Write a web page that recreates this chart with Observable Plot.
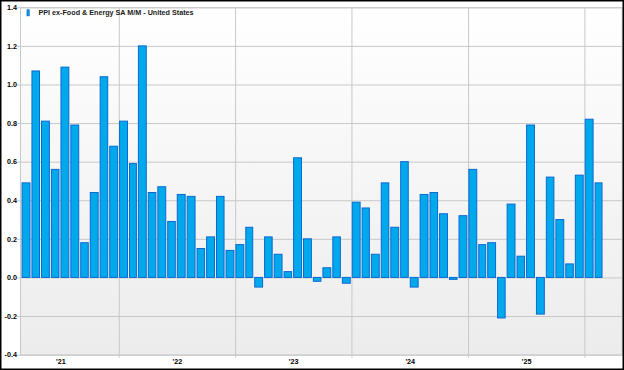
<!DOCTYPE html>
<html><head><meta charset="utf-8">
<script src="https://cdn.jsdelivr.net/npm/d3@7"></script>
<script src="https://cdn.jsdelivr.net/npm/@observablehq/plot@0.6"></script>
<style>
html,body{margin:0;padding:0;background:#fff}
#chart{width:624px;height:370px}
</style>
</head><body><div id="chart"></div>
<script>
const seriesName = "PPI ex-Food & Energy SA M/M - United States";
const firstMonth = [2021, 2];   // March 2021 (year, zero-based month)
const values = [
  0.49, 1.07, 0.81, 0.56, 1.09, 0.79, 0.18, 0.44, 1.04, 0.68,
  0.81, 0.59, 1.20, 0.44, 0.47, 0.29, 0.43, 0.42, 0.15, 0.21,
  0.42, 0.14, 0.17, 0.26, -0.05, 0.21, 0.12, 0.03, 0.62, 0.20,
  -0.02, 0.05, 0.21, -0.03, 0.39, 0.36, 0.12, 0.49, 0.26, 0.60,
  -0.05, 0.43, 0.44, 0.33, -0.01, 0.32, 0.56, 0.17, 0.18, -0.21,
  0.38, 0.11, 0.79, -0.19, 0.52, 0.30, 0.07, 0.53, 0.82, 0.49
];
const yTicks = [-0.4, -0.2, 0, 0.2, 0.4, 0.6, 0.8, 1.0, 1.2, 1.4];
const labelYears = [2021, 2022, 2023, 2024, 2025];
const yearLabels = ["'21", "'22", "'23", "'24", "'25"];
const gridYears = [2022, 2023, 2024, 2025, 2026];

const data = values.map((v, i) => {
  const d = new Date(Date.UTC(firstMonth[0], firstMonth[1] + i, 1));
  const e = new Date(Date.UTC(firstMonth[0], firstMonth[1] + i + 1, 1));
  return {d, e, v};
});
const labelDates = labelYears.map(y => new Date(Date.UTC(y, 6, 2)));
const labelMap = new Map(labelDates.map((d, i) => [+d, yearLabels[i]]));
const gridDates = gridYears.map(y => new Date(Date.UTC(y, 0, 1)));

const fill = "#00a9ec", stroke = "#0b68d2", grid = "#c8c8c8";
const font = "'Liberation Sans', Arial, sans-serif";

const defs = () => {
  const g = document.createElementNS("http://www.w3.org/2000/svg", "defs");
  g.innerHTML = `<linearGradient id="bgGrad" x1="0" y1="0" x2="0" y2="1">
    <stop offset="0" stop-color="#ffffff"/><stop offset="1" stop-color="#ececec"/></linearGradient>`;
  return g;
};
const decor = (index, scales, values, dims) => {
  const g = document.createElementNS("http://www.w3.org/2000/svg", "g");
  g.innerHTML = `<rect x="0.75" y="0.75" width="${dims.width - 1.5}" height="${dims.height - 1.5}" fill="none" stroke="#000" stroke-width="1.5"/>
    <rect x="${dims.marginLeft + 7}" y="${dims.marginTop + 2.5}" width="2.2" height="6" fill="${fill}" stroke="${stroke}" stroke-width="0.8"/>`;
  return g;
};

const chart = Plot.plot({
  width: 624,
  height: 370,
  marginLeft: 20,
  marginRight: 2.3,
  marginTop: 7.3,
  marginBottom: 15.4,
  style: {fontFamily: font, background: "transparent"},
  x: {type: "utc", label: null, domain: [new Date(Date.UTC(2021, 1, 25)), new Date(Date.UTC(2026, 3, 28))]},
  y: {label: null, domain: [-0.4, 1.4]},
  marks: [
    defs,
    Plot.frame({fill: "url(#bgGrad)", stroke: grid}),
    Plot.ruleY(yTicks, {stroke: grid, strokeOpacity: 1}),
    Plot.ruleX(gridDates, {stroke: grid, strokeOpacity: 1}),
    Plot.axisX(gridDates, {label: null, tickSize: 3, stroke: grid, strokeOpacity: 1, tickFormat: () => ""}),
    Plot.axisY({label: null, ticks: yTicks, tickSize: 3, stroke: grid, strokeOpacity: 1, tickPadding: 0.5,
      tickFormat: d => d.toFixed(1), fontSize: 7.2, fontWeight: "bold", fill: "#000"}),
    Plot.axisX({label: null, ticks: labelDates, tickSize: 0, tickPadding: 4.2, tickFormat: d => labelMap.get(+d),
      fontSize: 7.2, fontWeight: "bold", fill: "#000"}),
    Plot.rectY(data, {x1: "d", x2: "e", y1: 0, y2: "v", fill, stroke, strokeWidth: 1,
      insetLeft: 0.8, insetRight: 1.2}),
    Plot.text([seriesName], {frameAnchor: "top-left", dx: 18, dy: 5, textAnchor: "start",
      lineAnchor: "middle", fontSize: 7.2, fontWeight: "bold", fill: "#1a1a1a"}),
    decor
  ]
});
document.getElementById("chart").appendChild(chart);
</script>
</body></html>
